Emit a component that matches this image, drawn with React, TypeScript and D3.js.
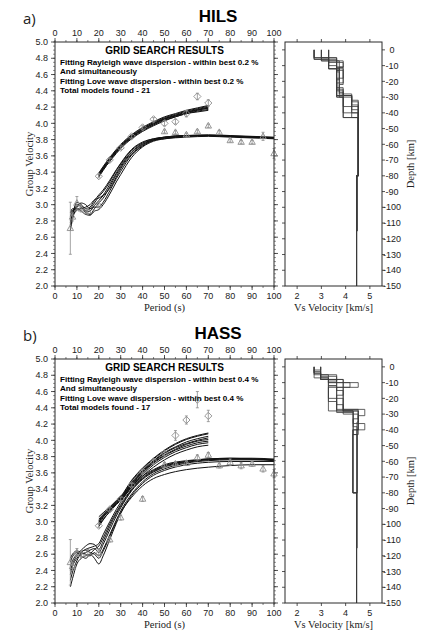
import React from 'react';
import * as d3 from 'd3';

// ---------- axis ticks ----------
const PERIOD_TICKS = [0, 10, 20, 30, 40, 50, 60, 70, 80, 90, 100];
const VELOCITY_TICKS = [2.0, 2.2, 2.4, 2.6, 2.8, 3.0, 3.2, 3.4, 3.6, 3.8, 4.0, 4.2, 4.4, 4.6, 4.8, 5.0];
const VS_TICKS = [2, 3, 4, 5];
const DEPTH_TICKS = [0, -10, -20, -30, -40, -50, -60, -70, -80, -90, -100, -110, -120, -130, -140, -150];

// ---------- dispersion model grids (periods, s) ----------
const RAYLEIGH_PERIODS = [20, 22, 25, 28, 30, 35, 40, 45, 50, 55, 60, 65, 70];
const LOVE_PERIODS = [7, 8, 10, 12, 14, 16, 18, 20, 22, 25, 28, 30, 35, 40, 45, 50, 60, 70, 80, 90, 100];

// ---------- HILS ----------
const HILS_RAYLEIGH_MODELS = [
  [3.36, 3.44, 3.55, 3.65, 3.71, 3.83, 3.92, 3.99, 4.05, 4.09, 4.13, 4.16, 4.19],
  [3.38, 3.46, 3.57, 3.67, 3.73, 3.85, 3.94, 4.01, 4.07, 4.11, 4.15, 4.18, 4.21],
  [3.35, 3.43, 3.53, 3.63, 3.69, 3.81, 3.90, 3.97, 4.03, 4.08, 4.12, 4.15, 4.17],
  [3.37, 3.45, 3.56, 3.66, 3.72, 3.84, 3.93, 4.00, 4.06, 4.10, 4.14, 4.17, 4.20],
  [3.34, 3.42, 3.54, 3.64, 3.70, 3.82, 3.91, 3.98, 4.04, 4.08, 4.12, 4.14, 4.16],
  [3.39, 3.47, 3.58, 3.68, 3.74, 3.86, 3.95, 4.02, 4.08, 4.12, 4.16, 4.19, 4.22],
  [3.365, 3.445, 3.555, 3.655, 3.715, 3.835, 3.925, 3.995, 4.055, 4.095, 4.135, 4.165, 4.185],
];
const HILS_LOVE_MODELS = [
  [2.72, 2.85, 2.93, 2.96, 2.93, 2.95, 3.02, 3.10, 3.16, 3.28, 3.42, 3.50, 3.67, 3.76, 3.81, 3.83, 3.85, 3.85, 3.84, 3.83, 3.82],
  [2.80, 2.90, 3.00, 2.97, 2.90, 2.88, 2.95, 3.02, 3.08, 3.22, 3.37, 3.46, 3.64, 3.74, 3.80, 3.82, 3.84, 3.85, 3.84, 3.83, 3.82],
  [2.85, 2.93, 2.95, 2.92, 2.88, 2.87, 2.92, 2.94, 3.00, 3.13, 3.28, 3.37, 3.58, 3.71, 3.78, 3.81, 3.84, 3.85, 3.84, 3.83, 3.82],
  [2.78, 2.88, 3.03, 3.00, 2.95, 2.97, 3.05, 3.12, 3.18, 3.30, 3.43, 3.51, 3.68, 3.77, 3.81, 3.83, 3.85, 3.85, 3.845, 3.835, 3.825],
  [2.90, 2.95, 2.94, 2.95, 2.97, 3.00, 3.06, 3.08, 3.12, 3.25, 3.39, 3.48, 3.65, 3.75, 3.80, 3.83, 3.85, 3.86, 3.85, 3.84, 3.83],
  [2.68, 2.82, 2.97, 3.02, 3.00, 2.95, 2.97, 2.97, 3.03, 3.17, 3.32, 3.41, 3.61, 3.72, 3.79, 3.81, 3.83, 3.84, 3.83, 3.82, 3.81],
  [2.75, 2.87, 2.98, 2.99, 2.91, 2.92, 2.99, 3.05, 3.11, 3.20, 3.34, 3.44, 3.62, 3.73, 3.79, 3.82, 3.84, 3.85, 3.84, 3.83, 3.82],
];
const HILS_RAYLEIGH_OBS_PERIOD = [20, 25, 30, 35, 40, 45, 50, 55, 60, 65, 70];
const HILS_RAYLEIGH_OBS_VEL = [3.35, 3.55, 3.70, 3.84, 3.95, 4.05, 4.00, 4.02, 4.12, 4.33, 4.25];
const HILS_RAYLEIGH_OBS_ERR = [0.02, 0.02, 0.02, 0.02, 0.02, 0.02, 0.03, 0.03, 0.04, 0.04, 0.04];
const HILS_LOVE_OBS_PERIOD = [7, 8, 10, 12, 15, 20, 50, 55, 60, 65, 70, 75, 80, 85, 90, 95, 100];
const HILS_LOVE_OBS_VEL = [2.71, 2.85, 3.02, 2.95, 2.92, 3.00, 3.90, 3.89, 3.86, 3.90, 3.97, 3.89, 3.79, 3.77, 3.77, 3.84, 3.63];
const HILS_LOVE_OBS_ERR = [0.32, 0.05, 0.08, 0.04, 0.04, 0.04, 0.02, 0.02, 0.02, 0.02, 0.02, 0.02, 0.02, 0.02, 0.02, 0.05, 0.06];
// Vs profiles: layer interface depths (km) and layer shear velocities (km/s)
const HILS_PROFILE_DEPTHS = [
  [0, 5, 12, 25, 29, 43, 80, 150],
  [0, 7, 11, 19, 29, 36, 80, 150],
  [0, 5, 13, 22, 30, 40, 80, 150],
  [0, 6, 12, 28, 33, 80, 150],
  [0, 7, 10, 24, 29, 38, 80, 150],
  [0, 5, 14, 27, 43, 80, 150],
  [0, 6, 11, 18, 29, 32, 80, 115, 150],
  [0, 5, 12, 21, 30, 40, 80, 150],
  [0, 7, 13, 26, 29, 35, 80, 115, 150],
  [0, 5, 8, 11, 30, 43, 80, 150],
];
const HILS_PROFILE_VS = [
  [2.7, 3.3, 3.63, 3.9, 4.25, 4.52, 4.45],
  [3.0, 3.9, 3.74, 3.63, 3.9, 4.52, 4.45],
  [3.3, 3.63, 3.9, 3.74, 4.25, 4.52, 4.45],
  [2.7, 3.3, 3.74, 4.25, 4.52, 4.45],
  [3.0, 3.3, 3.63, 3.9, 4.25, 4.52, 4.45],
  [3.3, 3.63, 3.74, 3.9, 4.52, 4.45],
  [2.7, 3.63, 3.9, 3.63, 4.25, 4.52, 4.48, 4.45],
  [3.0, 3.3, 3.9, 3.63, 3.9, 4.52, 4.45],
  [3.3, 3.74, 3.63, 3.9, 4.25, 4.52, 4.48, 4.45],
  [2.7, 3.3, 3.9, 3.63, 3.9, 4.52, 4.45],
];

// ---------- HASS ----------
const HASS_RAYLEIGH_MODELS = [
  [2.94, 3.02, 3.13, 3.22, 3.27, 3.44, 3.58, 3.70, 3.79, 3.86, 3.91, 3.95, 3.97],
  [2.97, 3.05, 3.15, 3.23, 3.28, 3.46, 3.61, 3.73, 3.82, 3.89, 3.95, 3.99, 4.01],
  [3.00, 3.07, 3.16, 3.24, 3.29, 3.48, 3.63, 3.75, 3.85, 3.92, 3.98, 4.02, 4.05],
  [3.03, 3.09, 3.17, 3.25, 3.30, 3.50, 3.65, 3.77, 3.87, 3.95, 4.01, 4.05, 4.08],
  [3.06, 3.11, 3.18, 3.26, 3.31, 3.51, 3.66, 3.78, 3.88, 3.96, 4.02, 4.06, 4.09],
  [2.96, 3.03, 3.12, 3.21, 3.26, 3.42, 3.56, 3.67, 3.76, 3.83, 3.88, 3.92, 3.94],
  [2.99, 3.06, 3.14, 3.22, 3.27, 3.45, 3.60, 3.72, 3.81, 3.88, 3.93, 3.97, 3.99],
  [3.01, 3.08, 3.16, 3.24, 3.29, 3.47, 3.62, 3.74, 3.84, 3.91, 3.96, 4.00, 4.03],
];
const HASS_LOVE_MODELS = [
  [2.20, 2.30, 2.48, 2.55, 2.58, 2.60, 2.55, 2.48, 2.58, 2.78, 2.98, 3.10, 3.32, 3.47, 3.57, 3.63, 3.70, 3.73, 3.74, 3.74, 3.74],
  [2.35, 2.45, 2.55, 2.60, 2.62, 2.65, 2.67, 2.62, 2.72, 2.90, 3.07, 3.17, 3.38, 3.52, 3.61, 3.67, 3.73, 3.76, 3.77, 3.77, 3.76],
  [2.50, 2.57, 2.62, 2.58, 2.55, 2.60, 2.66, 2.70, 2.80, 2.97, 3.12, 3.21, 3.40, 3.54, 3.63, 3.69, 3.74, 3.77, 3.77, 3.77, 3.76],
  [2.45, 2.52, 2.60, 2.65, 2.70, 2.73, 2.72, 2.66, 2.76, 2.94, 3.10, 3.19, 3.39, 3.53, 3.62, 3.68, 3.74, 3.77, 3.78, 3.78, 3.77],
  [2.28, 2.38, 2.52, 2.62, 2.66, 2.68, 2.70, 2.73, 2.84, 3.00, 3.15, 3.24, 3.43, 3.56, 3.64, 3.70, 3.75, 3.77, 3.78, 3.77, 3.76],
  [2.55, 2.60, 2.64, 2.62, 2.60, 2.58, 2.62, 2.58, 2.66, 2.84, 3.02, 3.13, 3.34, 3.49, 3.59, 3.65, 3.72, 3.75, 3.76, 3.76, 3.75],
  [2.40, 2.48, 2.58, 2.63, 2.65, 2.62, 2.60, 2.55, 2.64, 2.82, 3.00, 3.11, 3.30, 3.44, 3.53, 3.58, 3.64, 3.67, 3.69, 3.70, 3.70],
];
const HASS_RAYLEIGH_OBS_PERIOD = [20, 25, 30, 35, 40, 45, 50, 55, 60, 65, 70];
const HASS_RAYLEIGH_OBS_VEL = [2.95, 3.15, 3.28, 3.45, 3.62, 3.74, 3.84, 4.06, 4.25, 4.50, 4.30];
const HASS_RAYLEIGH_OBS_ERR = [0.02, 0.02, 0.02, 0.02, 0.02, 0.03, 0.03, 0.06, 0.05, 0.10, 0.07];
const HASS_LOVE_OBS_PERIOD = [7, 8, 10, 12, 15, 20, 25, 30, 40, 50, 55, 60, 65, 70, 75, 80, 85, 90, 95, 100];
const HASS_LOVE_OBS_VEL = [2.50, 2.45, 2.62, 2.60, 2.62, 2.62, 2.78, 3.05, 3.28, 3.70, 3.71, 3.72, 3.79, 3.82, 3.69, 3.73, 3.69, 3.71, 3.65, 3.59];
const HASS_LOVE_OBS_ERR = [0.28, 0.05, 0.05, 0.04, 0.04, 0.04, 0.03, 0.03, 0.03, 0.03, 0.03, 0.03, 0.03, 0.03, 0.03, 0.04, 0.04, 0.03, 0.04, 0.05];
const HASS_PROFILE_DEPTHS = [
  [0, 4, 8, 13, 28, 43, 80, 150],
  [0, 2, 7, 10, 13, 27, 31, 40, 80, 150],
  [0, 5, 9, 20, 28, 36, 40, 80, 150],
  [0, 7, 12, 24, 30, 43, 80, 150],
  [0, 4, 8, 10, 13, 28, 35, 80, 150],
  [0, 6, 12, 22, 29, 38, 80, 150],
  [0, 3, 8, 15, 27, 33, 43, 80, 115, 150],
  [0, 5, 10, 18, 28, 40, 80, 150],
];
const HASS_PROFILE_VS = [
  [2.7, 2.97, 3.9, 3.29, 4.31, 4.47, 4.45],
  [2.97, 2.7, 3.29, 4.52, 3.63, 4.79, 4.52, 4.3, 4.45],
  [2.7, 3.63, 3.29, 3.9, 4.31, 4.79, 4.47, 4.45],
  [2.97, 3.29, 3.63, 3.9, 4.52, 4.3, 4.45],
  [2.7, 2.97, 3.9, 4.18, 3.9, 4.52, 4.47, 4.45],
  [2.97, 3.63, 3.29, 3.63, 4.31, 4.47, 4.45],
  [2.7, 2.97, 3.63, 3.9, 4.52, 4.31, 4.3, 4.48, 4.45],
  [2.97, 3.29, 3.9, 3.63, 4.52, 4.3, 4.45],
];

const STATIONS = [
  {
    letter: 'a)', name: 'HILS', tolerance: '0.2', modelCount: 21,
    rayleighModels: HILS_RAYLEIGH_MODELS, loveModels: HILS_LOVE_MODELS,
    rayleighObs: [HILS_RAYLEIGH_OBS_PERIOD, HILS_RAYLEIGH_OBS_VEL, HILS_RAYLEIGH_OBS_ERR],
    loveObs: [HILS_LOVE_OBS_PERIOD, HILS_LOVE_OBS_VEL, HILS_LOVE_OBS_ERR],
    profileDepths: HILS_PROFILE_DEPTHS, profileVs: HILS_PROFILE_VS,
  },
  {
    letter: 'b)', name: 'HASS', tolerance: '0.4', modelCount: 17,
    rayleighModels: HASS_RAYLEIGH_MODELS, loveModels: HASS_LOVE_MODELS,
    rayleighObs: [HASS_RAYLEIGH_OBS_PERIOD, HASS_RAYLEIGH_OBS_VEL, HASS_RAYLEIGH_OBS_ERR],
    loveObs: [HASS_LOVE_OBS_PERIOD, HASS_LOVE_OBS_VEL, HASS_LOVE_OBS_ERR],
    profileDepths: HASS_PROFILE_DEPTHS, profileVs: HASS_PROFILE_VS,
  },
];

const SANS = '"Liberation Sans", Arial, Helvetica, sans-serif';
const SERIF = '"Liberation Serif", "Times New Roman", serif';
const FRAME = '#2a2a2a';
const OBS = '#8c8c8c';

const diamond = 'M0,-3.6L3.6,0L0,3.6L-3.6,0Z';
const triangle = 'M0,-3.4L3.2,2.3L-3.2,2.3Z';

function StationPanel({ st, offsetY }: { st: any; offsetY: number }) {
  // dispersion plot
  const x = d3.scaleLinear().domain([0, 100]).range([55, 274]);
  const y = d3.scaleLinear().domain([2, 5]).range([286, 42]);
  // velocity-depth plot
  const vx = d3.scaleLinear().domain([1.5, 5.5]).range([285, 382]);
  const dz = d3.scaleLinear().domain([-150, 5]).range([286, 42]);

  const curve = d3
    .line<[number, number]>()
    .x((d) => x(d[0]))
    .y((d) => y(d[1]))
    .curve(d3.curveMonotoneX);

  const [x0, x1] = x.range();
  const [yb, yt] = y.range();
  const [v0, v1] = vx.range();

  const minorVel = y.ticks(60);
  const minorPer = x.ticks(20);

  const profilePath = (depths: number[], vs: number[]) => {
    const pts: [number, number][] = [];
    vs.forEach((v, i) => {
      pts.push([vx(v), dz(-depths[i])]);
      pts.push([vx(v), dz(-depths[i + 1])]);
    });
    return d3.line()(pts) as string;
  };

  const obsMarks = (obs: number[][], shape: string, key: string) =>
    obs[0].map((p, i) => {
      const cx = x(p);
      const cy = y(obs[1][i]);
      const e = obs[2][i];
      const ya = y(obs[1][i] + e);
      const yb2 = y(obs[1][i] - e);
      return (
        <g key={key + i}>
          <line x1={cx} x2={cx} y1={ya} y2={yb2} stroke={OBS} strokeWidth={0.8} />
          <line x1={cx - 1.5} x2={cx + 1.5} y1={ya} y2={ya} stroke={OBS} strokeWidth={0.8} />
          <line x1={cx - 1.5} x2={cx + 1.5} y1={yb2} y2={yb2} stroke={OBS} strokeWidth={0.8} />
          <path d={shape} transform={`translate(${cx},${cy})`} fill="none" stroke={OBS} strokeWidth={0.9} />
        </g>
      );
    });

  const textLines = [
    `Fitting Rayleigh wave dispersion - within best ${st.tolerance} %`,
    'And simultaneously',
    `Fitting Love wave dispersion - within best ${st.tolerance} %`,
    `Total models found - ${st.modelCount}`,
  ];

  return (
    <g transform={`translate(0,${offsetY})`}>
      {/* headings */}
      <text x={23} y={24} fontFamily='"Open Sans", sans-serif' fontSize={15} fill="#222">{st.letter}</text>
      <text x={218} y={22} textAnchor="middle" fontFamily={SANS} fontWeight="bold" fontSize={17} fill="#000">{st.name}</text>

      {/* ---------- dispersion curves ---------- */}
      <g fontFamily={SANS} fontSize={9} fill="#222">
        {PERIOD_TICKS.map((t) => (
          <g key={'pt' + t}>
            <text x={x(t)} y={36} textAnchor="middle">{t}</text>
            <text x={x(t)} y={299} textAnchor="middle">{t}</text>
            <line x1={x(t)} x2={x(t)} y1={yt} y2={yt - 4} stroke={FRAME} strokeWidth={0.8} />
            <line x1={x(t)} x2={x(t)} y1={yb} y2={yb + 4} stroke={FRAME} strokeWidth={0.8} />
          </g>
        ))}
        {minorPer.map((t) => (
          <g key={'mp' + t}>
            <line x1={x(t)} x2={x(t)} y1={yt} y2={yt - 2} stroke={FRAME} strokeWidth={0.6} />
            <line x1={x(t)} x2={x(t)} y1={yb} y2={yb + 2} stroke={FRAME} strokeWidth={0.6} />
          </g>
        ))}
        {VELOCITY_TICKS.map((t) => (
          <g key={'vt' + t}>
            <text x={48} y={y(t) + 3.2} textAnchor="end">{t.toFixed(1)}</text>
            <line x1={x0} x2={x0 - 4} y1={y(t)} y2={y(t)} stroke={FRAME} strokeWidth={0.8} />
            <line x1={x1} x2={x1 + 4} y1={y(t)} y2={y(t)} stroke={FRAME} strokeWidth={0.8} />
          </g>
        ))}
        {minorVel.map((t) => (
          <g key={'mv' + t}>
            <line x1={x0} x2={x0 - 2} y1={y(t)} y2={y(t)} stroke={FRAME} strokeWidth={0.5} />
            <line x1={x1} x2={x1 + 2} y1={y(t)} y2={y(t)} stroke={FRAME} strokeWidth={0.5} />
          </g>
        ))}
      </g>

      <g fill="none" stroke="#111" strokeWidth={1}>
        {st.loveModels.map((m: number[], i: number) => (
          <path key={'lm' + i} d={curve(LOVE_PERIODS.map((p, j) => [p, m[j]] as [number, number])) as string} />
        ))}
        {st.rayleighModels.map((m: number[], i: number) => (
          <path key={'rm' + i} d={curve(RAYLEIGH_PERIODS.map((p, j) => [p, m[j]] as [number, number])) as string} />
        ))}
      </g>
      {obsMarks(st.rayleighObs, diamond, 'ro')}
      {obsMarks(st.loveObs, triangle, 'lo')}

      <rect x={x0} y={yt} width={x1 - x0} height={yb - yt} fill="none" stroke={FRAME} strokeWidth={1} />

      <g fontFamily={SANS} fontWeight="bold" fill="#000">
        <text x={(x0 + x1) / 2} y={yt + 12} textAnchor="middle" fontSize={10}>GRID SEARCH RESULTS</text>
        {textLines.map((t, i) => (
          <text key={'tl' + i} x={60} y={yt + 23 + i * 9.3} fontSize={8.1}>{t}</text>
        ))}
      </g>

      <text x={(x0 + x1) / 2} y={311} textAnchor="middle" fontFamily={SERIF} fontSize={10.5} fill="#222">Period (s)</text>
      <text transform={`translate(33,${(yt + yb) / 2}) rotate(-90)`} textAnchor="middle" fontFamily={SERIF} fontSize={10.5} fill="#222">Group Velocity</text>

      {/* ---------- Vs profiles ---------- */}
      <g fill="none" stroke="#3a3a3a" strokeWidth={0.8}>
        {st.profileDepths.map((dd: number[], i: number) => (
          <path key={'pf' + i} d={profilePath(dd, st.profileVs[i])} />
        ))}
      </g>
      <rect x={v0} y={yt} width={v1 - v0} height={yb - yt} fill="none" stroke={FRAME} strokeWidth={1} />
      <g fontFamily={SANS} fontSize={9} fill="#222">
        {VS_TICKS.map((t) => (
          <g key={'vs' + t}>
            <text x={vx(t)} y={299} textAnchor="middle">{t}</text>
            <line x1={vx(t)} x2={vx(t)} y1={yb} y2={yb + 3} stroke={FRAME} strokeWidth={0.8} />
            <line x1={vx(t)} x2={vx(t)} y1={yt} y2={yt - 3} stroke={FRAME} strokeWidth={0.8} />
          </g>
        ))}
        {DEPTH_TICKS.map((t) => (
          <g key={'dp' + t}>
            <text x={392} y={dz(t) + 3.2} textAnchor="middle">{t}</text>
            <line x1={v1} x2={v1 + 3} y1={dz(t)} y2={dz(t)} stroke={FRAME} strokeWidth={0.8} />
            <line x1={v0} x2={v0 - 3} y1={dz(t)} y2={dz(t)} stroke={FRAME} strokeWidth={0.8} />
          </g>
        ))}
      </g>
      <text x={(v0 + v1) / 2} y={311} textAnchor="middle" fontFamily={SERIF} fontSize={10.5} fill="#222">Vs Velocity [km/s]</text>
      <text transform={`translate(414,${(yt + yb) / 2}) rotate(-90)`} textAnchor="middle" fontFamily={SERIF} fontSize={10.5} fill="#222">Depth [km]</text>
    </g>
  );
}

export default function App() {
  return (
    <svg
      width={422}
      height={633}
      viewBox="0 0 422 633"
      style={{ position: 'absolute', left: 0, top: 0, background: '#fff' }}
    >
      <rect width={422} height={633} fill="#fff" />
      {STATIONS.map((st, i) => (
        <StationPanel key={st.name} st={st} offsetY={i * 317} />
      ))}
    </svg>
  );
}
